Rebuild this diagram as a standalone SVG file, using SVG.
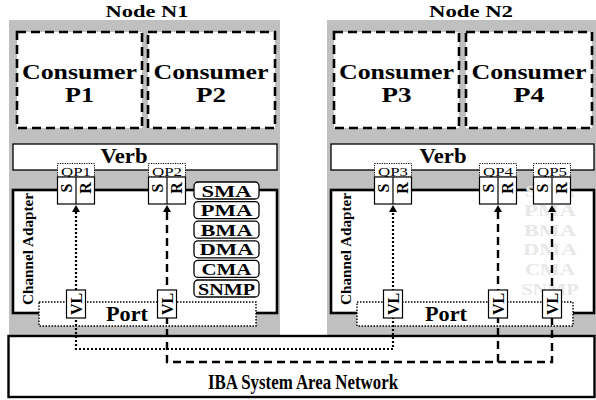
<svg xmlns="http://www.w3.org/2000/svg" width="596" height="400" viewBox="0 0 596 400" font-family="'Liberation Serif', 'Times New Roman', serif">
  <style>
    text { font-family: "Liberation Serif", "Times New Roman", serif; font-weight: bold; fill: #000; }
    .node-bg { fill: #c0c0c0; stroke: none; }
    .consumer { fill: #fff; stroke: #000; stroke-width: 2.6; stroke-dasharray: 9 5; }
    .verb { fill: #fff; stroke: #000; stroke-width: 1.3; }
    .ca { fill: #fff; stroke: #000; stroke-width: 2.6; }
    .port { fill: #fff; stroke: #000; stroke-width: 1.4; stroke-dasharray: 1.5 1.5; }
    .qplabel { fill: #fff; stroke: #000; stroke-width: 1; stroke-dasharray: 1.2 1.2; }
    .qp { fill: #fff; stroke: #000; stroke-width: 1.2; }
    .vl { fill: #fff; stroke: #000; stroke-width: 1.2; }
    .mgr { fill: #fff; stroke: #000; stroke-width: 1.3; }
    .net { fill: #fff; stroke: #000; stroke-width: 2.4; }
    .dotted { fill: none; stroke: #000; stroke-width: 2.2; stroke-dasharray: 2 2; }
    .dashed { fill: none; stroke: #000; stroke-width: 2.4; stroke-dasharray: 8 5; }
    .c { text-anchor: middle; }
    .cons { font-size: 20px; text-anchor: middle; }
    .qpt { font-weight: normal; font-size: 12px; text-anchor: middle; }
    .sr { font-size: 16px; text-anchor: middle; }
    .mg { font-size: 17px; text-anchor: middle; }
    .faded { fill: #e8e8e8; font-size: 17px; text-anchor: middle; }
  </style>

  <!-- Node N1 -->
  <g id="node-n1">
    <text class="c" x="147" y="17" font-size="17" textLength="83" lengthAdjust="spacingAndGlyphs">Node N1</text>
    <rect class="node-bg" x="9" y="20" width="271" height="316"/>
    <g id="consumer-p1">
      <rect class="consumer" x="17" y="32" width="125" height="96"/>
      <text class="cons" x="79.5" y="79" textLength="115" lengthAdjust="spacingAndGlyphs">Consumer</text>
      <text class="cons" x="79.5" y="102" textLength="29" lengthAdjust="spacingAndGlyphs">P1</text>
    </g>
    <g id="consumer-p2">
      <rect class="consumer" x="148" y="32" width="127" height="96"/>
      <text class="cons" x="211" y="79" textLength="115" lengthAdjust="spacingAndGlyphs">Consumer</text>
      <text class="cons" x="211" y="102" textLength="30" lengthAdjust="spacingAndGlyphs">P2</text>
    </g>
    <g id="verb-n1">
      <rect class="verb" x="13" y="144" width="264" height="26"/>
      <text class="c" x="124" y="163" font-size="20" textLength="47" lengthAdjust="spacingAndGlyphs">Verb</text>
    </g>
    <g id="ca-n1">
      <rect class="ca" x="13" y="190" width="264" height="123"/>
      <text transform="translate(32.5,249) rotate(-90)" class="c" font-size="15" textLength="112" lengthAdjust="spacingAndGlyphs">Channel Adapter</text>
    </g>
    <g id="port-n1">
      <rect class="port" x="39" y="302" width="217" height="24"/>
      <text class="c" x="127" y="321" font-size="21" textLength="42" lengthAdjust="spacingAndGlyphs">Port</text>
    </g>
    <g id="managers-n1">
      <rect class="mgr" x="194" y="182" width="65" height="17" rx="4"/>
      <text class="mg" x="226.5" y="196.5" textLength="50" lengthAdjust="spacingAndGlyphs">SMA</text>
      <rect class="mgr" x="194" y="201.6" width="65" height="17" rx="4"/>
      <text class="mg" x="226.5" y="216.1" textLength="52" lengthAdjust="spacingAndGlyphs">PMA</text>
      <rect class="mgr" x="194" y="221.2" width="65" height="17" rx="4"/>
      <text class="mg" x="226.5" y="235.7" textLength="52" lengthAdjust="spacingAndGlyphs">BMA</text>
      <rect class="mgr" x="194" y="240.8" width="65" height="17" rx="4"/>
      <text class="mg" x="226.5" y="255.3" textLength="54" lengthAdjust="spacingAndGlyphs">DMA</text>
      <rect class="mgr" x="194" y="260.4" width="65" height="17" rx="4"/>
      <text class="mg" x="226.5" y="274.9" textLength="50" lengthAdjust="spacingAndGlyphs">CMA</text>
      <rect class="mgr" x="194" y="280" width="65" height="17" rx="4"/>
      <text class="mg" x="226.5" y="294.5" textLength="57" lengthAdjust="spacingAndGlyphs">SNMP</text>
    </g>
  </g>

  <!-- Node N2 -->
  <g id="node-n2">
    <text class="c" x="471" y="17" font-size="17" textLength="84" lengthAdjust="spacingAndGlyphs">Node N2</text>
    <rect class="node-bg" x="327" y="20" width="269" height="316"/>
    <g id="consumer-p3">
      <rect class="consumer" x="334" y="32" width="125" height="96"/>
      <text class="cons" x="396.5" y="79" textLength="115" lengthAdjust="spacingAndGlyphs">Consumer</text>
      <text class="cons" x="396.5" y="102" textLength="30" lengthAdjust="spacingAndGlyphs">P3</text>
    </g>
    <g id="consumer-p4">
      <rect class="consumer" x="466" y="32" width="126" height="96"/>
      <text class="cons" x="529" y="79" textLength="115" lengthAdjust="spacingAndGlyphs">Consumer</text>
      <text class="cons" x="529" y="102" textLength="31" lengthAdjust="spacingAndGlyphs">P4</text>
    </g>
    <g id="verb-n2">
      <rect class="verb" x="331" y="144" width="263" height="26"/>
      <text class="c" x="443" y="163" font-size="20" textLength="47" lengthAdjust="spacingAndGlyphs">Verb</text>
    </g>
    <g id="ca-n2">
      <rect class="ca" x="331" y="190" width="263" height="123"/>
      <text transform="translate(350.5,249) rotate(-90)" class="c" font-size="15" textLength="112" lengthAdjust="spacingAndGlyphs">Channel Adapter</text>
    </g>
    <g id="managers-n2">
      <text class="faded" x="550" y="196.5" textLength="50" lengthAdjust="spacingAndGlyphs">SMA</text>
      <text class="faded" x="550" y="216.1" textLength="52" lengthAdjust="spacingAndGlyphs">PMA</text>
      <text class="faded" x="550" y="235.7" textLength="52" lengthAdjust="spacingAndGlyphs">BMA</text>
      <text class="faded" x="550" y="255.3" textLength="54" lengthAdjust="spacingAndGlyphs">DMA</text>
      <text class="faded" x="550" y="274.9" textLength="50" lengthAdjust="spacingAndGlyphs">CMA</text>
      <text class="faded" x="550" y="294.5" textLength="57" lengthAdjust="spacingAndGlyphs">SNMP</text>
    </g>
    <g id="port-n2">
      <rect class="port" x="357" y="302" width="216" height="24"/>
      <text class="c" x="446" y="321" font-size="21" textLength="42" lengthAdjust="spacingAndGlyphs">Port</text>
    </g>
  </g>

  <!-- IBA fabric -->
  <g id="network">
    <rect class="net" x="8.5" y="336" width="586" height="61"/>
    <text class="c" x="303" y="389" font-size="22" textLength="190" lengthAdjust="spacingAndGlyphs">IBA System Area Network</text>
  </g>

  <!-- Connectors -->
  <g id="connectors">
    <path class="dotted" d="M76,212 V349 H393 V212"/>
    <path class="dashed" d="M167,212 V362 H552 V212"/>
    <path class="dashed" d="M498,362 V212"/>
    <path d="M72,212 L76,205 L80,212 Z" fill="#000"/>
    <path d="M163,212 L167,205 L171,212 Z" fill="#000"/>
    <path d="M389,212 L393,205 L397,212 Z" fill="#000"/>
    <path d="M494,212 L498,205 L502,212 Z" fill="#000"/>
    <path d="M548,212 L552,205 L556,212 Z" fill="#000"/>
  </g>

  <!-- Virtual lanes -->
  <g id="vl1">
    <rect class="vl" x="66.5" y="290" width="19" height="28"/>
    <text transform="translate(81.5,304) rotate(-90)" class="sr">VL</text>
  </g>
  <g id="vl2">
    <rect class="vl" x="157.5" y="290" width="19" height="28"/>
    <text transform="translate(172.5,304) rotate(-90)" class="sr">VL</text>
  </g>
  <g id="vl3">
    <rect class="vl" x="383.5" y="290" width="19" height="28"/>
    <text transform="translate(398.5,304) rotate(-90)" class="sr">VL</text>
  </g>
  <g id="vl4">
    <rect class="vl" x="488.5" y="290" width="19" height="28"/>
    <text transform="translate(503.5,304) rotate(-90)" class="sr">VL</text>
  </g>
  <g id="vl5">
    <rect class="vl" x="542.5" y="290" width="19" height="28"/>
    <text transform="translate(557.5,304) rotate(-90)" class="sr">VL</text>
  </g>

  <!-- Queue pairs: send / receive -->
  <g id="qp1">
    <rect class="qplabel" x="57.5" y="163.5" width="37" height="13.5"/>
    <text class="qpt" x="76" y="175.5" textLength="30" lengthAdjust="spacingAndGlyphs">QP1</text>
    <rect class="qp" x="57.5" y="177" width="37" height="27"/>
    <line x1="76" y1="177" x2="76" y2="204" stroke="#000" stroke-width="1.2"/>
    <text transform="translate(72,188) rotate(-90)" class="sr">S</text>
    <text transform="translate(90.5,188) rotate(-90)" class="sr">R</text>
  </g>
  <g id="qp2">
    <rect class="qplabel" x="148.5" y="163.5" width="37" height="13.5"/>
    <text class="qpt" x="167" y="175.5" textLength="30" lengthAdjust="spacingAndGlyphs">QP2</text>
    <rect class="qp" x="148.5" y="177" width="37" height="27"/>
    <line x1="167" y1="177" x2="167" y2="204" stroke="#000" stroke-width="1.2"/>
    <text transform="translate(163,188) rotate(-90)" class="sr">S</text>
    <text transform="translate(181.5,188) rotate(-90)" class="sr">R</text>
  </g>
  <g id="qp3">
    <rect class="qplabel" x="374.5" y="163.5" width="37" height="13.5"/>
    <text class="qpt" x="393" y="175.5" textLength="30" lengthAdjust="spacingAndGlyphs">QP3</text>
    <rect class="qp" x="374.5" y="177" width="37" height="27"/>
    <line x1="393" y1="177" x2="393" y2="204" stroke="#000" stroke-width="1.2"/>
    <text transform="translate(389,188) rotate(-90)" class="sr">S</text>
    <text transform="translate(407.5,188) rotate(-90)" class="sr">R</text>
  </g>
  <g id="qp4">
    <rect class="qplabel" x="479.5" y="163.5" width="37" height="13.5"/>
    <text class="qpt" x="498" y="175.5" textLength="30" lengthAdjust="spacingAndGlyphs">QP4</text>
    <rect class="qp" x="479.5" y="177" width="37" height="27"/>
    <line x1="498" y1="177" x2="498" y2="204" stroke="#000" stroke-width="1.2"/>
    <text transform="translate(494,188) rotate(-90)" class="sr">S</text>
    <text transform="translate(512.5,188) rotate(-90)" class="sr">R</text>
  </g>
  <g id="qp5">
    <rect class="qplabel" x="533.5" y="163.5" width="37" height="13.5"/>
    <text class="qpt" x="552" y="175.5" textLength="30" lengthAdjust="spacingAndGlyphs">QP5</text>
    <rect class="qp" x="533.5" y="177" width="37" height="27"/>
    <line x1="552" y1="177" x2="552" y2="204" stroke="#000" stroke-width="1.2"/>
    <text transform="translate(548,188) rotate(-90)" class="sr">S</text>
    <text transform="translate(566.5,188) rotate(-90)" class="sr">R</text>
  </g>
</svg>
